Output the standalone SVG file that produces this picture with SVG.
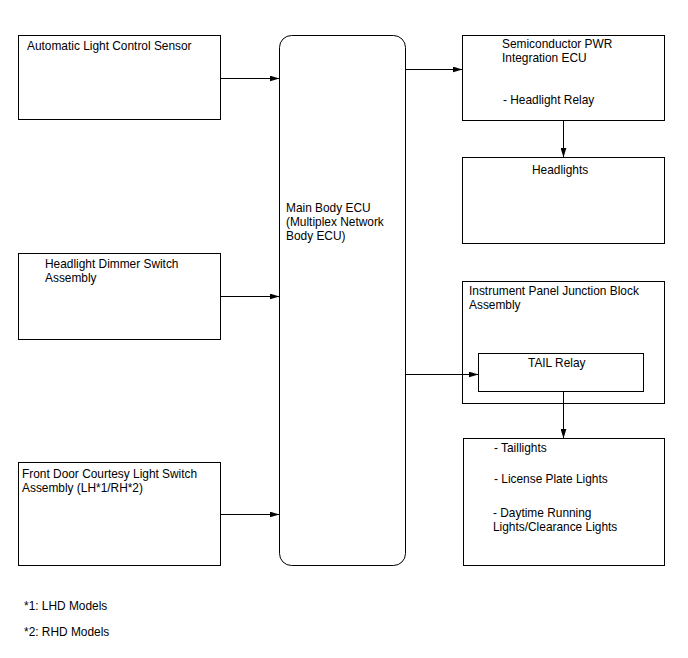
<svg xmlns="http://www.w3.org/2000/svg" width="688" height="658" viewBox="0 0 688 658">
<style>
.box{fill:#fff;stroke:#000;stroke-width:1}
text{font-family:"Liberation Sans",Arial,sans-serif;font-size:11.9px;fill:#000}
.line{stroke:#000;stroke-width:1;fill:none;marker-end:url(#arr)}
</style>
<defs>
<marker id="arr" markerWidth="10" markerHeight="6" refX="10" refY="3" orient="auto" markerUnits="userSpaceOnUse">
<path d="M0,0 L10,3 L0,6 Z" fill="#000"/>
</marker>
</defs>
<rect width="688" height="658" fill="#fff"/>
<g id="als">
<rect class="box" x="18.5" y="35.5" width="202" height="84"/>
<text x="27" y="50">Automatic Light Control Sensor</text>
</g>
<g id="dimmer">
<rect class="box" x="18.5" y="253.5" width="202" height="86"/>
<text x="45" y="268">Headlight Dimmer Switch</text>
<text x="45" y="282">Assembly</text>
</g>
<g id="door">
<rect class="box" x="18.5" y="462.5" width="202" height="103"/>
<text x="22" y="478">Front Door Courtesy Light Switch</text>
<text x="22" y="492">Assembly (LH*1/RH*2)</text>
</g>
<g id="mainecu">
<rect class="box" x="279.5" y="35.5" width="126" height="530" rx="12" ry="12"/>
<text x="286" y="212">Main Body ECU</text>
<text x="286" y="226">(Multiplex Network</text>
<text x="286" y="240">Body ECU)</text>
</g>
<g id="semi">
<rect class="box" x="462.5" y="35.5" width="202" height="85"/>
<text x="502" y="48">Semiconductor PWR</text>
<text x="502" y="62">Integration ECU</text>
<text x="503" y="104">- Headlight Relay</text>
</g>
<g id="headlights">
<rect class="box" x="462.5" y="157.5" width="202" height="86"/>
<text x="532" y="174">Headlights</text>
</g>
<g id="ipjb">
<rect class="box" x="462.5" y="281.5" width="202" height="122"/>
<text x="469" y="295">Instrument Panel Junction Block</text>
<text x="469" y="309">Assembly</text>
</g>
<g id="tail">
<rect class="box" x="478.5" y="353.5" width="165" height="38"/>
<text x="528" y="367">TAIL Relay</text>
</g>
<g id="lights">
<rect class="box" x="463.5" y="438.5" width="201" height="127"/>
<text x="494" y="452">- Taillights</text>
<text x="494" y="483">- License Plate Lights</text>
<text x="493" y="517">- Daytime Running</text>
<text x="493" y="531">Lights/Clearance Lights</text>
</g>
<g id="connectors">
<line class="line" x1="220.5" y1="78.5" x2="279.5" y2="78.5"/>
<line class="line" x1="220.5" y1="296.5" x2="279.5" y2="296.5"/>
<line class="line" x1="220.5" y1="514.5" x2="279.5" y2="514.5"/>
<line class="line" x1="405.5" y1="69.5" x2="462.5" y2="69.5"/>
<line class="line" x1="563.5" y1="120.5" x2="563.5" y2="157.5"/>
<line class="line" x1="405.5" y1="374.5" x2="478.5" y2="374.5"/>
<line class="line" x1="563.5" y1="391.5" x2="563.5" y2="438.5"/>
</g>
<g id="notes">
<text x="24" y="610">*1: LHD Models</text>
<text x="24" y="636">*2: RHD Models</text>
</g>
</svg>
